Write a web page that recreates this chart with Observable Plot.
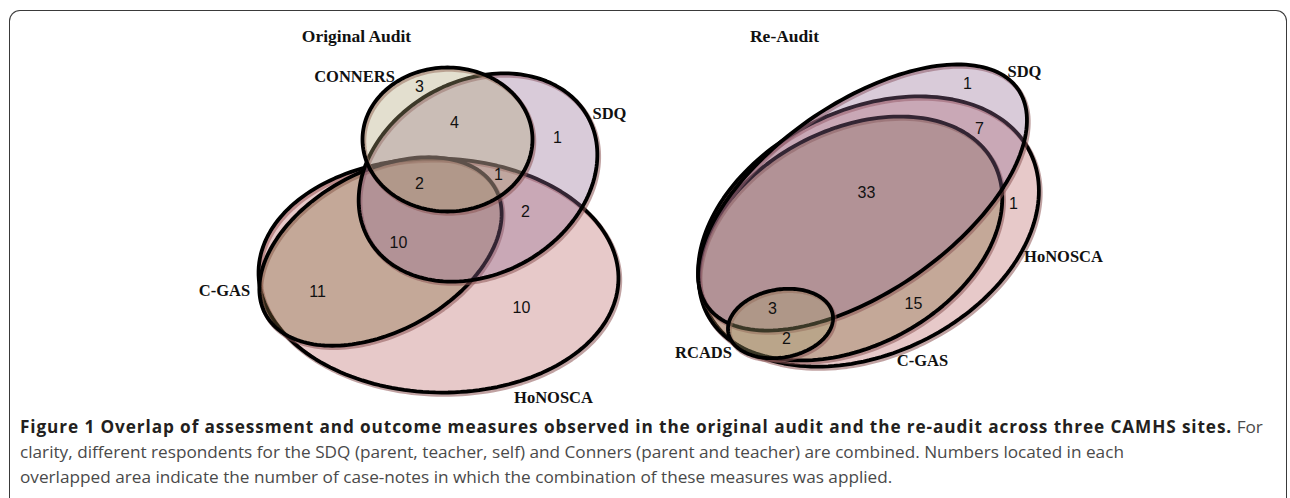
<!DOCTYPE html>
<html>
<head>
<meta charset="utf-8">
<script src="https://cdn.jsdelivr.net/npm/d3@7"></script>
<script src="https://cdn.jsdelivr.net/npm/@observablehq/plot@0.6"></script>
<style>
  html, body { margin: 0; padding: 0; background: #fff; }
  body { width: 1290px; height: 498px; position: relative; overflow: hidden; }
  #frame { position: absolute; left: 9px; top: 10px; width: 1276px; height: 520px;
           border: 1.5px solid #3a3a3a; border-bottom: none; border-radius: 11px 11px 0 0; }
  #chart { position: absolute; left: 0; top: 0; }
  #caption { position: absolute; left: 20px; top: 414px; font-family: "Open Sans", sans-serif;
             font-size: 17.2px; line-height: 25px; color: #4a4a4a; white-space: nowrap; }
  #caption b { color: #231f20; letter-spacing: 0.9px; }
</style>
</head>
<body>
<div id="frame"></div>
<div id="chart"></div>
<div id="caption"><b>Figure 1 Overlap of assessment and outcome measures observed in the original audit and the re-audit across three CAMHS sites.</b> For<br>clarity, different respondents for the SDQ (parent, teacher, self) and Conners (parent and teacher) are combined. Numbers located in each<br>overlapped area indicate the number of case-notes in which the combination of these measures was applied.</div>
<script>
// ---- data ----
const panels = ["Original Audit", "Re-Audit"];
const setNames = ["HoNOSCA", "C-GAS", "SDQ", "CONNERS", "HoNOSCA", "C-GAS", "SDQ", "RCADS"];
const setPanel = [0, 0, 0, 0, 1, 1, 1, 1];
const setColors = ["#ba6565", "#836b3d", "#926a92", "#afa476", "#ba6565", "#836b3d", "#926a92", "#a8a070"];
// number of case-notes in each overlapped area
const regionCounts = [3, 4, 1, 1, 2, 2, 10, 11, 10, 1, 7, 33, 1, 15, 3, 2];
const regionPanel  = [0, 0, 0, 0, 0, 0, 0,  0,  0, 1, 1, 1,  1, 1,  1, 1];

// ---- layout (Euler ellipses, in chart units) ----
const ellCx  = [438, 380, 477.5, 447, 868, 850, 862, 780];
const ellCy  = [275, 251, 177, 139, 231, 238, 197, 323];
const ellA   = [180, 131, 125.5, 85, 180, 162, 189.5, 53];
const ellB   = [117, 80, 96.6, 72, 122, 108, 94, 34];
const ellRot = [1.5, -28.7, -29, 0, -26, -28, -34.9, -10];
const setLabelX = [553, 224, 609, 354, 1063, 922, 1024, 703];
const setLabelY = [397, 290, 113, 76, 256, 360, 71, 352];
const regionX = [419, 454, 557, 498, 419, 525, 398, 317, 521, 967, 979, 866, 1013, 913, 772, 786];
const regionY = [86, 122, 137, 174, 183, 211, 242, 291, 307, 83, 128, 192, 203, 303, 308, 338];
const titleX = [356, 784];
const titleY = [36, 36];

function outline(i) {
  const phi = ellRot[i] * Math.PI / 180, pts = [];
  for (let k = 0; k < 180; k++) {
    const t = 2 * Math.PI * k / 180;
    const u = ellA[i] * Math.cos(t), v = ellB[i] * Math.sin(t);
    pts.push({x: ellCx[i] + u * Math.cos(phi) - v * Math.sin(phi),
              y: ellCy[i] + u * Math.sin(phi) + v * Math.cos(phi)});
  }
  return pts;
}

const marks = [];
setNames.forEach((name, i) => {
  const pts = outline(i);
  marks.push(Plot.line(pts, {x: "x", y: "y", curve: "linear-closed", fill: "none",
    stroke: "#8c5656", strokeOpacity: 0.55, strokeWidth: 4.5, dx: 1.5, dy: 2}));
  marks.push(Plot.line(pts, {x: "x", y: "y", curve: "linear-closed",
    fill: setColors[i], fillOpacity: 0.35, stroke: "#000", strokeWidth: 3.8}));
});

const setTable = setNames.map((n, i) => ({name: n, x: setLabelX[i], y: setLabelY[i]}));
const regionTable = regionCounts.map((c, i) => ({count: c, x: regionX[i], y: regionY[i]}));
const titleTable = panels.map((p, i) => ({title: p, x: titleX[i], y: titleY[i]}));

marks.push(Plot.text(regionTable, {x: "x", y: "y", text: d => String(d.count),
  fontFamily: "Liberation Sans, Arial, sans-serif", fontSize: 16, fill: "#111"}));
marks.push(Plot.text(setTable, {x: "x", y: "y", text: "name",
  fontFamily: "Liberation Serif, Times New Roman, serif", fontWeight: "bold", fontSize: 16.5, fill: "#111"}));
marks.push(Plot.text(titleTable, {x: "x", y: "y", text: "title",
  fontFamily: "Liberation Serif, Times New Roman, serif", fontWeight: "bold", fontSize: 17.5, fill: "#111"}));

const chart = Plot.plot({
  width: 1290, height: 410, margin: 0,
  x: {domain: [0, 1290], range: [0, 1290], axis: null},
  y: {domain: [0, 410], range: [0, 410], axis: null},
  style: {background: "transparent", overflow: "visible"},
  marks
});
document.getElementById("chart").appendChild(chart);
</script>
</body>
</html>
